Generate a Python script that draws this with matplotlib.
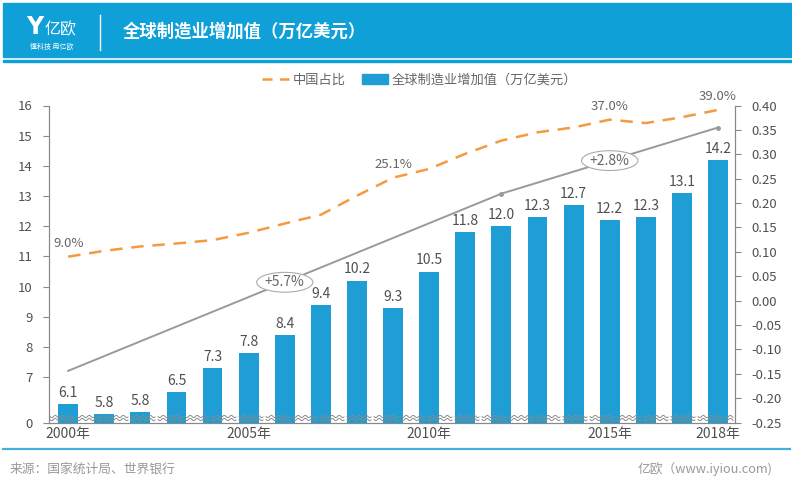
import matplotlib
matplotlib.use('Agg')
import matplotlib.pyplot as plt
import numpy as np
from matplotlib.patches import Rectangle
from matplotlib.lines import Line2D
from matplotlib import font_manager

plt.rcParams['font.family'] = ['Noto Sans CJK SC', 'DejaVu Sans']
_light_ok = any(('Noto Sans CJK' in f.name and f.weight in (300, 350, 'light'))
                for f in font_manager.fontManager.ttflist)
LIGHT = 'light' if _light_ok else 'normal'

# ---------------- data ----------------
years = [2000, 2001, 2002, 2003, 2004, 2005, 2006, 2007, 2008, 2009,
         2010, 2011, 2012, 2013, 2014, 2015, 2016, 2017, 2018]
mfg_value = [6.1, 5.78, 5.84, 6.5, 7.3, 7.8, 8.4, 9.4, 10.2, 9.3,
             10.5, 11.8, 12.0, 12.3, 12.7, 12.2, 12.3, 13.1, 14.2]
china_share = [0.090, 0.102, 0.111, 0.117, 0.124, 0.139, 0.158, 0.176, 0.215, 0.252,
               0.270, 0.301, 0.328, 0.345, 0.355, 0.371, 0.364, 0.376, 0.391]
share_label_years = [2000, 2009, 2015, 2018]
share_label_texts = ['9.0%', '25.1%', '37.0%', '39.0%']
trend_years = [2000, 2012, 2018]
trend_values = [7.21, 13.08, 15.27]
growth_years = [2006, 2015]
growth_texts = ['+5.7%', '+2.8%']
left_ticks = [5.5, 7, 8, 9, 10, 11, 12, 13, 14, 15, 16]
left_ticklabels = ['0', '7', '8', '9', '10', '11', '12', '13', '14', '15', '16']
right_ticks = [-0.25, -0.20, -0.15, -0.10, -0.05, 0.00, 0.05, 0.10, 0.15, 0.20, 0.25, 0.30, 0.35, 0.40]
xtick_years = [2000, 2005, 2010, 2015, 2018]

title = '全球制造业增加值（万亿美元）'
legend_line = '中国占比'
legend_bar = '全球制造业增加值（万亿美元）'
source = '来源：国家统计局、世界银行'
brand = '亿欧（www.iyiou.com)'

# ---------------- styles ----------------
W, H = 792, 478
BLUE = '#1E9ED4'
HEAD = '#0FA0D8'
ORANGE = '#F59A3E'
GREY_LINE = '#9A9A9A'
TXT = '#505050'

def fx(px):
    return px / W

def fy(py):
    return 1 - py / H

fig = plt.figure(figsize=(W / 100, H / 100), dpi=100)

# header band
fig.patches.append(Rectangle((fx(3), fy(57)), 1 - fx(3), fy(3) - fy(57),
                             transform=fig.transFigure, color=HEAD, zorder=0))
fig.patches.append(Rectangle((fx(3), fy(61.5)), 1 - fx(3), fy(59.5) - fy(61.5),
                             transform=fig.transFigure, color=HEAD, zorder=0))
fig.text(fx(35), fy(27), 'Y', color='white', fontsize=17, fontweight='bold',
         ha='center', va='center', family='DejaVu Sans')
fig.text(fx(61), fy(30), '亿欧', color='white', fontsize=11.5, ha='center', va='center',
         fontweight=LIGHT)
fig.text(fx(52), fy(46.5), '懂科技 用亿欧', color='white', fontsize=5, ha='center', va='center')
fig.add_artist(Line2D([fx(100), fx(100)], [fy(15), fy(50)], transform=fig.transFigure,
                      color='white', lw=1))
fig.text(fx(123), fy(32), title, color='white', fontsize=12.5, fontweight='bold',
         ha='left', va='center')

# footer
fig.add_artist(Line2D([fx(3), fx(790)], [fy(448.5), fy(448.5)], transform=fig.transFigure,
                      color='#45B0DE', lw=1.6))
fig.text(fx(10), fy(469), source, color='#999999', fontsize=9.2, ha='left', va='center')
fig.text(fx(772), fy(469), brand, color='#999999', fontsize=9.2, ha='right', va='center')

# ---------------- axes ----------------
ax = fig.add_axes([fx(49), fy(422.5), fx(735) - fx(49), fy(105.5) - fy(422.5)])
ax2 = ax.twinx()

x = np.arange(len(years))
ax.bar(x, mfg_value, width=0.55, color=BLUE, zorder=2)
for xi, v in zip(x, mfg_value):
    ax.annotate(f'{v:.1f}', (xi, v), xytext=(0, 3), textcoords='offset points',
                ha='center', va='bottom', fontsize=10, color=TXT, fontweight=LIGHT)

ax.set_xlim(-0.53, len(years) - 1 + 0.47)
ax.set_ylim(5.5, 16)
ax.set_yticks(left_ticks)
ax.set_yticklabels(left_ticklabels)
ax.set_xticks([years.index(y) for y in xtick_years])
ax.set_xticklabels([f'{y}年' for y in xtick_years])

# trend line
tx = [years.index(y) for y in trend_years]
ax.plot(tx, trend_values, color=GREY_LINE, lw=1.4, zorder=3)
ax.plot(tx[1:], trend_values[1:], 'o', color=GREY_LINE, ms=2.5, zorder=3)
for gy, gt in zip(growth_years, growth_texts):
    gx = years.index(gy)
    gv = np.interp(gx, tx, trend_values)
    ax.text(gx, gv, gt, ha='center', va='center', fontsize=10, color='#666666', zorder=5,
            fontweight=LIGHT,
            bbox=dict(boxstyle='ellipse,pad=0.0', fc='white', ec='#AAAAAA', lw=0.8))

# china share line
ax2.plot(x, china_share, color=ORANGE, lw=1.8, dashes=(5, 3.5), zorder=4)
for sy, st in zip(share_label_years, share_label_texts):
    i = years.index(sy)
    ax2.annotate(st, (i, china_share[i]), xytext=(0, 5), textcoords='offset points',
                 ha='center', va='bottom', fontsize=9.5, color='#666666', fontweight=LIGHT)
ax2.set_ylim(-0.25, 0.40)
ax2.set_yticks(right_ticks)
ax2.set_yticklabels([f'{t:.2f}' for t in right_ticks])

for a in (ax, ax2):
    for s in a.spines.values():
        s.set_color('#888888')
        s.set_linewidth(0.8)
    a.spines['top'].set_visible(False)
    a.tick_params(colors='#888888', labelcolor=TXT, labelsize=9.5, length=4, width=0.8)
    for lab in a.get_xticklabels() + a.get_yticklabels():
        lab.set_fontweight(LIGHT)
ax.tick_params(axis='x', length=0, pad=3, labelsize=10)
ax.tick_params(axis='y', pad=8)
ax2.tick_params(axis='y', pad=8)
ax2.set_zorder(ax.get_zorder() + 1)
ax2.patch.set_visible(False)

# axis-break wavy marks along bottom
seg = 24
gap = 3
xs = 50
while xs < 733:
    xe = min(xs + seg, 733)
    px = np.linspace(xs, xe, 40)
    for base in (416.5, 419.5):
        py = base + 1.1 * np.sin((px - xs) / 7.0 * 2 * np.pi)
        fig.add_artist(Line2D(fx(px), fy(py), transform=fig.transFigure,
                              color='#8A8A8A', lw=0.7, zorder=10))
    xs = xe + gap

# legend
handles = [Line2D([0], [0], color=ORANGE, lw=1.8, dashes=(4, 3)),
           Rectangle((0, 0), 1, 1, color=BLUE)]
leg = fig.legend(handles, [legend_line, legend_bar], loc='center', bbox_to_anchor=(fx(420), fy(80)),
                 ncol=2, frameon=False, fontsize=9.5, handlelength=2.0, handletextpad=0.3,
                 columnspacing=1.2, labelcolor='#666666')
for t in leg.get_texts():
    t.set_fontweight(LIGHT)

fig.savefig('out.png', dpi=100)
